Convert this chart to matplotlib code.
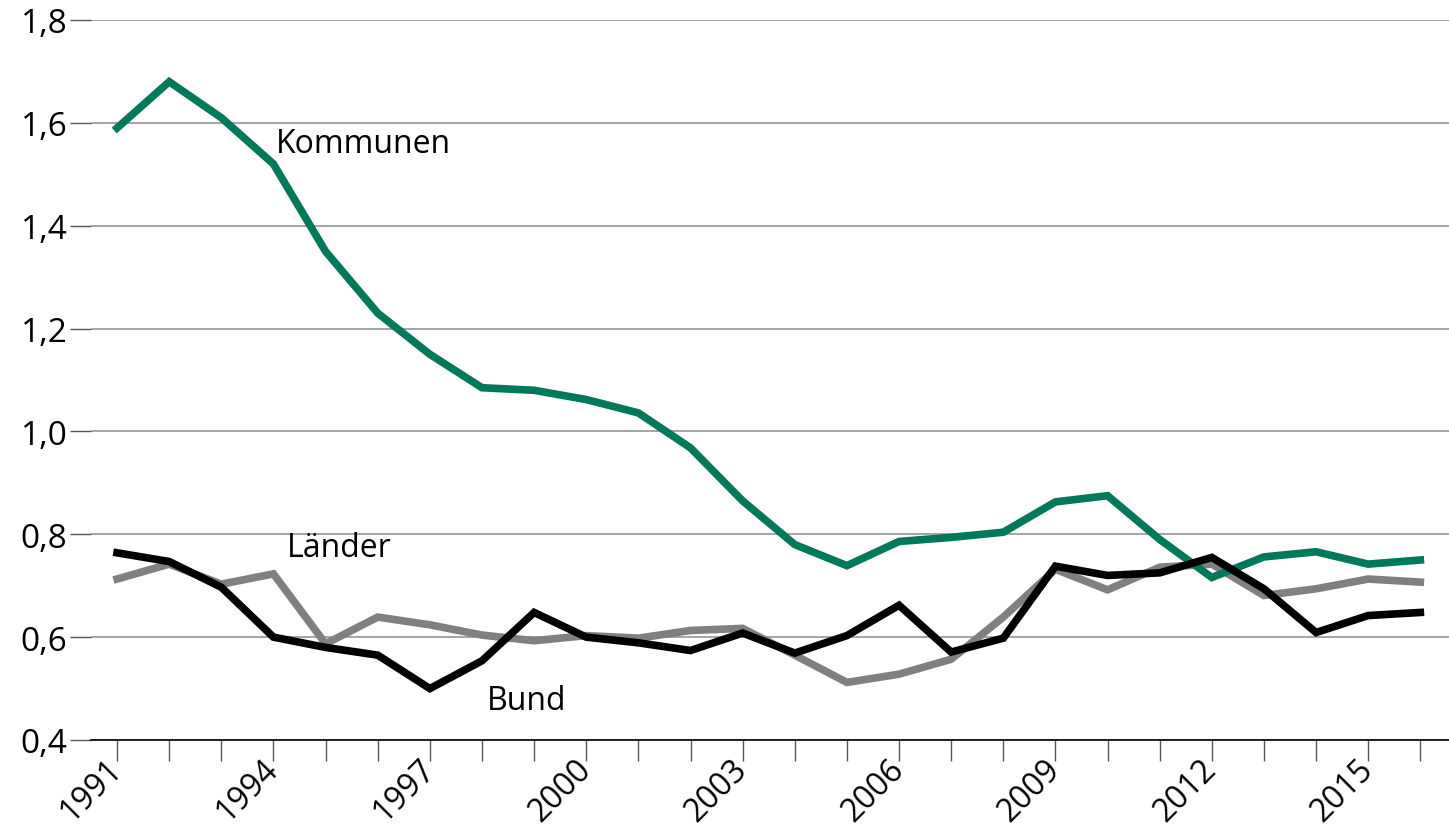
import matplotlib
matplotlib.use("Agg")
import matplotlib.pyplot as plt
from matplotlib.ticker import FuncFormatter, MultipleLocator

years = list(range(1991, 2017))
kommunen = [1.59, 1.68, 1.61, 1.52, 1.35, 1.23, 1.15, 1.085, 1.08, 1.062, 1.036, 0.968,
            0.865, 0.78, 0.739, 0.786, 0.794, 0.804, 0.863, 0.875, 0.79, 0.716, 0.756,
            0.766, 0.742, 0.75]
laender = [0.713, 0.742, 0.703, 0.723, 0.587, 0.639, 0.624, 0.604, 0.593, 0.603, 0.598,
           0.613, 0.617, 0.565, 0.512, 0.528, 0.557, 0.639, 0.732, 0.692, 0.736, 0.742,
           0.681, 0.694, 0.713, 0.707]
bund = [0.764, 0.747, 0.697, 0.600, 0.580, 0.565, 0.500, 0.554, 0.648, 0.600, 0.589,
        0.574, 0.608, 0.569, 0.603, 0.662, 0.571, 0.598, 0.738, 0.720, 0.725, 0.755,
        0.694, 0.609, 0.642, 0.648]
label_years = [1991, 1994, 1997, 2000, 2003, 2006, 2009, 2012, 2015]

plt.rcParams['font.family'] = ['Open Sans', 'DejaVu Sans']

fig = plt.figure(figsize=(14.49, 8.28), dpi=100)
ax = fig.add_axes([91/1449, 1 - 741/828, 1 - 91/1449, (741 - 21)/828])

ax.plot(years, laender, color='#808080', lw=5.5, solid_joinstyle='miter', zorder=3)
ax.plot(years, kommunen, color='#00785A', lw=5.5, solid_joinstyle='miter', zorder=4)
ax.plot(years, bund, color='#000000', lw=5.5, solid_joinstyle='miter', zorder=5)

ax.set_xlim(1990.5, 2016.55)
ax.set_ylim(0.4, 1.8)
ax.yaxis.set_major_locator(MultipleLocator(0.2))
ax.yaxis.set_major_formatter(FuncFormatter(lambda v, p: f"{v:.1f}".replace('.', ',')))
ax.grid(axis='y', color='#8c8c8c', lw=1.1, zorder=0)
ax.set_axisbelow(True)

ax.set_xticks(years)
ax.set_xticklabels([str(y) if y in label_years else '' for y in years],
                   rotation=45, ha='right', va='center', rotation_mode='anchor')

for s in ['top', 'right', 'left']:
    ax.spines[s].set_visible(False)
ax.spines['bottom'].set_color('#000000')
ax.spines['bottom'].set_linewidth(1.2)

ax.tick_params(axis='y', length=15, width=1, color='#555555', labelsize=24, pad=2)
ax.tick_params(axis='x', length=15, width=1, color='#555555', labelsize=23, pad=2)

ax.text(1994.05, 1.559, 'Kommunen', fontsize=23, va='center', ha='left')
ax.text(1994.25, 0.775, 'Länder', fontsize=23, va='center', ha='left')
ax.text(1998.09, 0.476, 'Bund', fontsize=23, va='center', ha='left')

fig.savefig('out.png', dpi=100)
